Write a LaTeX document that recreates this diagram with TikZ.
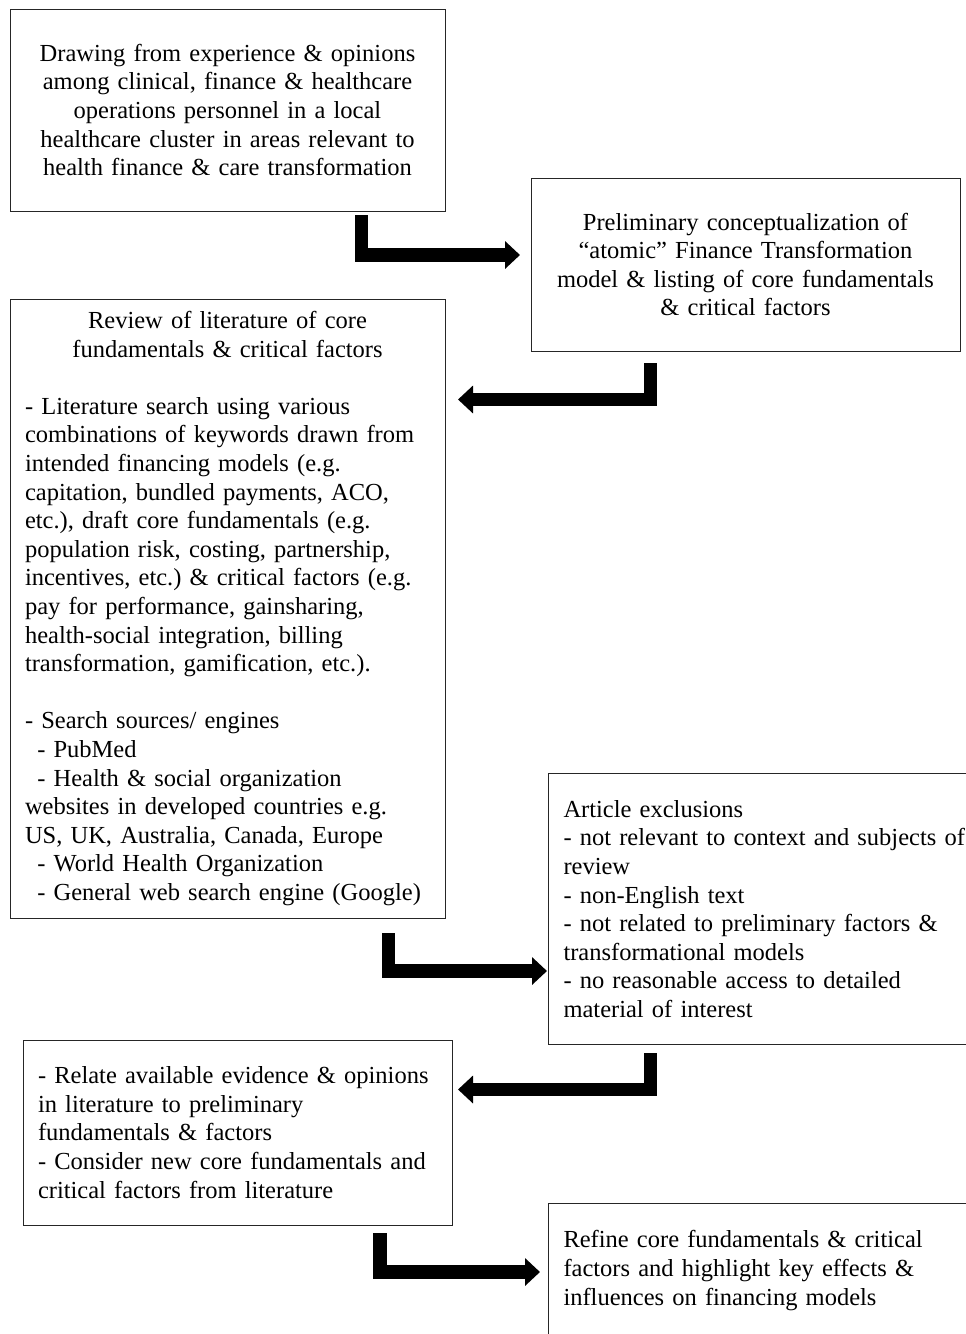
\documentclass[tikz,border=0pt]{standalone}
\usepackage{fontspec}
\setmainfont{Liberation Serif}
\usetikzlibrary{arrows.meta}
\frenchspacing

\begin{document}
\begin{tikzpicture}[x=1pt, y=-1pt,
    stage/.style    = {draw=black!85, line width=1pt, rectangle, inner xsep=15pt, inner ysep=0pt,
                       font=\fontsize{24.5}{28.6}\selectfont},
    bigarrow/.style = {-{Triangle[length=15pt,width=27pt]}, line width=13.5pt, line join=miter, black},
]
\useasboundingbox (0,0) rectangle (966,1334);

% --- Boxes ---
\node[stage, minimum width=435pt, minimum height=202pt, text width=405pt, align=center] (intro) at (227.5,110)
  {Drawing from experience \& opinions\\among clinical, finance \& healthcare\\operations personnel in a local\\healthcare cluster in areas relevant to\\health finance \& care transformation};
\node[stage, minimum width=429pt, minimum height=173pt, text width=399pt, align=center] (concept) at (745.5,264.5)
  {Preliminary conceptualization of\\``atomic'' Finance Transformation\\model \& listing of core fundamentals\\\& critical factors};
\node[stage, minimum width=435pt, minimum height=619pt, text width=405pt] (review) at (227.5,608.5)
  {{\centering Review of literature of core\\fundamentals \& critical factors\par}\vspace{28.6pt}\raggedright
   - Literature search using various\\combinations of keywords drawn from\\intended financing models (e.g.\\capitation, bundled payments, ACO,\\etc.), draft core fundamentals (e.g.\\population risk, costing, partnership,\\incentives, etc.) \& critical factors (e.g.\\pay for performance, gainsharing,\\health-social integration, billing\\transformation, gamification, etc.).\\[28.6pt]
   - Search sources/ engines\\\hspace*{0.5em}- PubMed\\\hspace*{0.5em}- Health \& social organization\\websites in developed countries e.g.\\US, UK, Australia, Canada, Europe\\\hspace*{0.5em}- World Health Organization\\\hspace*{0.5em}- General web search engine (Google)};
\node[stage, anchor=north west, minimum width=460pt, minimum height=271pt, text width=430pt, align=left] (excl) at (548,773)
  {Article exclusions\\- not relevant to context and subjects of\\review\\- non-English text\\- not related to preliminary factors \&\\transformational models\\- no reasonable access to detailed\\material of interest};
\node[stage, minimum width=429pt, minimum height=185pt, text width=399pt, align=left] (relate) at (237.5,1132.5)
  {- Relate available evidence \& opinions\\in literature to preliminary\\fundamentals \& factors\\- Consider new core fundamentals and\\critical factors from literature};
\node[stage, anchor=north west, minimum width=460pt, minimum height=134pt, text width=430pt, align=left] (refine) at (548,1203)
  {Refine core fundamentals \& critical\\factors and highlight key effects \&\\influences on financing models};

% --- Arrows ---
\coordinate (a1s) at (361.5,215);   \coordinate (a1e) at (520,255);
\coordinate (a2s) at (650.5,363);   \coordinate (a2e) at (458,399.5);
\coordinate (a3s) at (388.5,933);   \coordinate (a3e) at (547,971);
\coordinate (a4s) at (650.5,1053);  \coordinate (a4e) at (458,1089.5);
\coordinate (a5s) at (380,1233);    \coordinate (a5e) at (540,1272);

\draw[bigarrow] (a1s) |- (a1e);
\draw[bigarrow] (a2s) |- (a2e);
\draw[bigarrow] (a3s) |- (a3e);
\draw[bigarrow] (a4s) |- (a4e);
\draw[bigarrow] (a5s) |- (a5e);

\end{tikzpicture}
\end{document}
